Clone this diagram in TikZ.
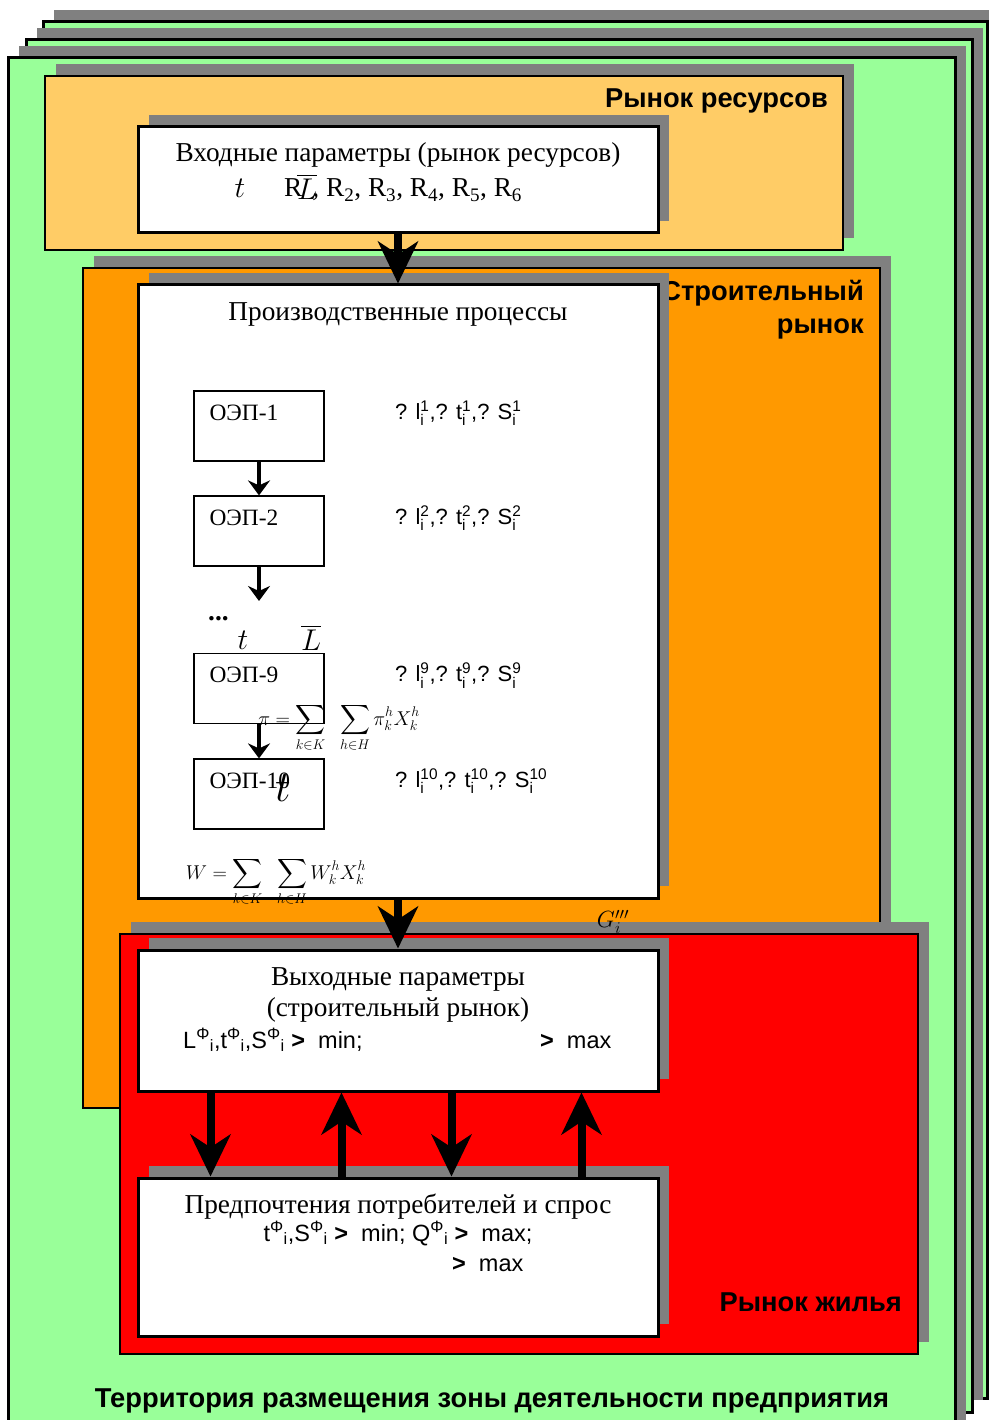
\RequirePackage{fix-cm}
\documentclass[tikz,border=0pt]{standalone}
\usepackage{fontspec}
\setmainfont{Liberation Serif}
\setsansfont{Liberation Sans}
\usepackage{amsmath}
\usetikzlibrary{arrows.meta,shadows}
\definecolor{terrGreen}{RGB}{153,255,153}
\definecolor{resOrange}{RGB}{255,204,102}
\definecolor{bldOrange}{RGB}{255,153,0}
\definecolor{houRed}{RGB}{255,0,0}
\definecolor{shadowGray}{RGB}{128,128,128}
\newcommand\boxfont{\fontsize{27.3}{31}\selectfont}
\newcommand\oepfont{\fontsize{23.4}{26}\selectfont}
\newcommand\parfont{\sffamily\fontsize{22}{26}\selectfont}
\newcommand\resfont{\sffamily\fontsize{23.5}{26}\selectfont}
\newcommand\mktfont{\sffamily\bfseries\fontsize{27.3}{31}\selectfont}
\newcommand\mathsmall{\fontsize{20}{24}\selectfont}
\newcommand\mathmid{\fontsize{30}{34}\selectfont}
\newcommand\mathhuge{\fontsize{44}{48}\selectfont}
\newcommand\supsub[2]{$^{\text{#1}}_{\text{#2}}$}
\newcommand\phisub{\textsuperscript{Φ}\textsubscript{i}}
\tikzset{
  shd/.style={general shadow={shadow xshift=11pt,shadow yshift=12pt,fill=shadowGray}},
  terr/.style={draw,line width=3pt,fill=terrGreen,shd},
  mkt/.style={draw,line width=1.2pt,shd},
  wbox/.style={draw,line width=3pt,fill=white,shd},
  oep/.style={draw,line width=1.2pt,fill=white,minimum width=130,minimum height=70},
  mktlab/.style={font=\mktfont,inner sep=0pt},
  txt/.style={font=\boxfont,inner sep=0pt},
  par/.style={font=\parfont,inner sep=0pt},
  res/.style={font=\resfont,inner sep=0pt},
  bigarr/.style={-{Stealth[length=42pt,width=40pt,inset=13pt]},line width=8pt},
  smarr/.style={-{Stealth[length=15pt,width=22pt,inset=5pt]},line width=4pt},
}

\begin{document}
\begin{tikzpicture}[x=1pt,y=-1pt]
  \useasboundingbox (0,0) rectangle (988,1420);
  % territory frames
  \node[terr,minimum width=944,minimum height=1376] (terr3) at (515,710) {};
  \node[terr,minimum width=946,minimum height=1372] (terr2) at (499,726) {};
  \node[terr,minimum width=947,minimum height=1380] (terr1) at (481.5,748) {};
  % resource market
  \node[mkt,fill=resOrange,minimum width=798,minimum height=174] (res) at (444,163) {};
  \node[mktlab,anchor=base east] (reslab) at (828,108) {Рынок ресурсов};
  \node[wbox,minimum width=520,minimum height=106] (inp) at (398,180) {};
  \node[txt,anchor=base] (inptitle) at (398,162) {Входные параметры (рынок ресурсов)};
  \node[font=\mathmid] (inpt) at (240,188) {$t$};
  \node[txt,anchor=base west] (inpr) at (284,197)
    {R\textsubscript{\phantom{1}}, R\textsubscript{2}, R\textsubscript{3}, R\textsubscript{4}, R\textsubscript{5}, R\textsubscript{6}};
  \node[font=\mathmid] (inpl) at (307,187) {$\overline{L}$};
  % construction market
  \node[mkt,fill=bldOrange,minimum width=797,minimum height=840] (bld) at (481.5,688) {};
  \node[mktlab,anchor=base east] (bldlab) at (864,301) {Строительный};
  \node[mktlab,anchor=base east] (bldlab2) at (864,333) {рынок};
  \node[wbox,minimum width=520,minimum height=613] (prod) at (398,591.5) {};
  \node[txt,anchor=base] (prodtitle) at (398,320) {Производственные процессы};
  \foreach \n/\y in {1/426,2/531,9/688.5,10/794}{
    \node[oep] (o\n) at (259,\y) {};
    \node[font=\oepfont,inner sep=0pt,anchor=base west] (o\n lab) at ([xshift=16pt,yshift=-30pt]o\n.north west) {ОЭП-\n};
    \node[par,anchor=base west] (o\n par) at (395,\y-7)
      {? l\supsub{\n}{i},? t\supsub{\n}{i},? S\supsub{\n}{i}};
  }
  \coordinate (gap) at (259,601);
  \draw[smarr] (o1.south) -- (o2.north);
  \draw[smarr] (o2.south) -- (gap);
  \draw[smarr] (o9.south) -- (o10.north);
  \node[txt,font=\boxfont\bfseries,anchor=base west] (dots) at (208,620) {...};
  \node[font=\mathmid] (tnine) at (243,640) {$t$};
  \node[font=\mathmid] (lnine) at (311,638) {$\overline{L}$};
  \node[font=\mathsmall] (piform) at (339,728) {$\displaystyle \pi=\sum_{k\in K}\;\;\sum_{h\in H}\pi_k^h X_k^h$};
  \node[font=\mathhuge] (tten) at (283,788) {$t$};
  \node[font=\mathsmall] (wform) at (276,882) {$\displaystyle W=\sum_{k\in K}\;\;\sum_{h\in H}W_k^h X_k^h$};
  % housing market
  \node[mkt,fill=houRed,minimum width=798,minimum height=420] (hou) at (519,1144) {};
  \node[mktlab,anchor=base east] (houlab) at (902,1311) {Рынок жилья};
  \node[font=\oepfont] (gform) at (613,922) {$G_i'''$};
  \node[wbox,minimum width=520,minimum height=141] (out) at (398,1020.5) {};
  \node[txt,anchor=base] (outt1) at (398,985) {Выходные параметры};
  \node[txt,anchor=base] (outt2) at (398,1016) {(строительный рынок)};
  \node[res,anchor=base west] (outp1) at (183,1048)
    {L\phisub,t\phisub,S\phisub\ \textbf{>}\ \ min;};
  \node[res,anchor=base west] (outp2) at (540,1048) {\textbf{>}\ \ max};
  \node[wbox,minimum width=520,minimum height=158] (pref) at (398,1257) {};
  \node[txt,anchor=base] (preft) at (398,1213) {Предпочтения потребителей и спрос};
  \node[res,anchor=base] (prefp1) at (398,1241)
    {t\phisub,S\phisub\ \textbf{>}\ \ min; Q\phisub\ \textbf{>}\ \ max;};
  \node[res,anchor=base west] (prefp2) at (452,1271) {\textbf{>}\ \ max};
  % connectors
  \draw[bigarr] (inp.south) -- (prod.north);
  \draw[bigarr] (prod.south) -- (out.north);
  \foreach \dx in {74,315}
    \draw[bigarr] ([xshift=\dx pt]out.south west) -- ([xshift=\dx pt]pref.north west);
  \foreach \dx in {205,445}
    \draw[bigarr] ([xshift=\dx pt]pref.north west) -- ([xshift=\dx pt]out.south west);
  \node[mktlab,anchor=base] (terrlab) at (492,1407) {Территория размещения зоны деятельности предприятия};
\end{tikzpicture}
\end{document}
